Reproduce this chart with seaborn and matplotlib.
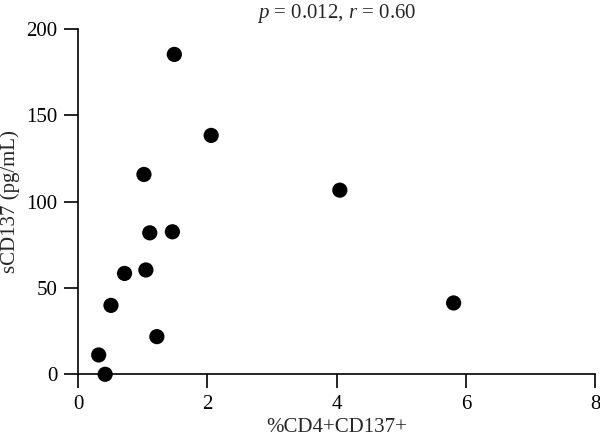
import matplotlib
matplotlib.use('Agg')
import matplotlib.pyplot as plt
import seaborn as sns
import pandas as pd

# 数据
cd4_cd137 = [1.49, 2.06, 1.02, 1.11, 1.46, 0.72, 1.05, 0.51, 1.22, 0.32, 0.42, 4.05, 5.81]
scd137 = [185.2, 138.3, 115.7, 81.9, 82.5, 58.4, 60.4, 39.9, 21.8, 11.2, 0.0, 106.6, 41.3]

df = pd.DataFrame({"x": cd4_cd137, "y": scd137})

sns.set_theme(style="ticks")
plt.rcParams['font.family'] = ['Liberation Serif', 'DejaVu Serif']
plt.rcParams['mathtext.fontset'] = 'custom'
plt.rcParams['mathtext.it'] = 'Liberation Serif:italic'
plt.rcParams['mathtext.rm'] = 'Liberation Serif'

fig = plt.figure(figsize=(6, 4.37), dpi=100)
ax = fig.add_axes([0.13, 0.1435, 0.862, 0.7905])

sns.scatterplot(data=df, x="x", y="y", ax=ax, color="black", s=120,
                edgecolor="none", clip_on=False, zorder=3)

ax.set_xlim(0, 8)
ax.set_ylim(0, 200)
ax.set_xticks([0, 2, 4, 6, 8])
ax.set_yticks([0, 50, 100, 150, 200])
ax.set_xlabel("%CD4+CD137+", fontsize=15, labelpad=3)
ax.set_ylabel("sCD137 (pg/mL)", fontsize=15, labelpad=4)
ax.set_title(r"$p$ = 0.012, $r$ = 0.60", fontsize=15, pad=8)

for s in ["top", "right"]:
    ax.spines[s].set_visible(False)
for s in ["left", "bottom"]:
    ax.spines[s].set_linewidth(1.2)
    ax.spines[s].set_color("black")
ax.tick_params(axis="both", direction="out", length=10, width=1.2,
               labelsize=15, pad=5, colors="black")

fig.savefig("out.png", dpi=100)
